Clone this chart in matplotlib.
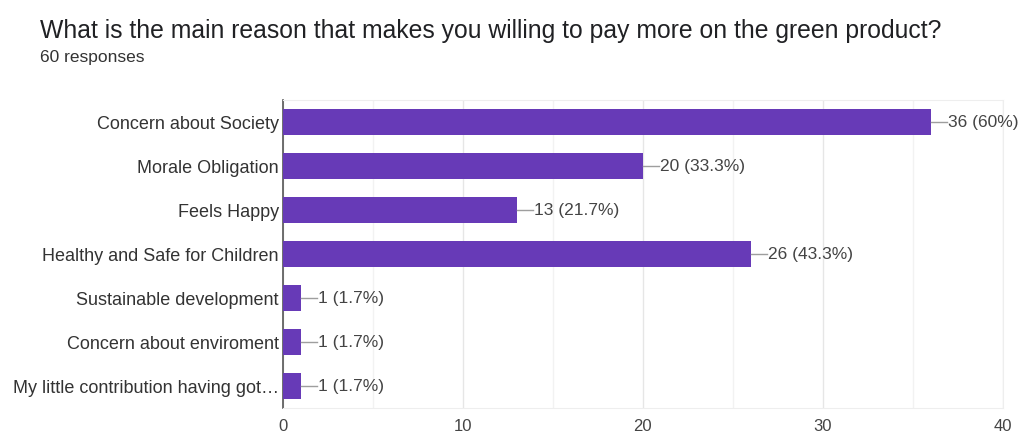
import matplotlib
matplotlib.use("Agg")
import matplotlib.pyplot as plt

plt.rcParams['font.family'] = ['Liberation Sans', 'DejaVu Sans']

# Survey answers, top to bottom
reasons = [
    'Concern about Society',
    'Morale Obligation',
    'Feels Happy',
    'Healthy and Safe for Children',
    'Sustainable development',
    'Concern about enviroment',
    'My little contribution having got\u2026',
]
counts = [36, 20, 13, 26, 1, 1, 1]
percents = ['60%', '33.3%', '21.7%', '43.3%', '1.7%', '1.7%', '1.7%']
total = 60

purple = '#673ab7'
text_gray = '#444444'

fig = plt.figure(figsize=(10.25, 4.43), dpi=100)
ax = fig.add_axes([0.276, 0.079, 0.7025, 0.695])

ypos = list(range(len(reasons)))
ax.barh(ypos, counts, height=0.59, color=purple, zorder=3)
ax.set_ylim(len(reasons) - 0.5, -0.5)
ax.set_xlim(0, 40)

# value labels with a short leader line
for y, c, p in zip(ypos, counts, percents):
    ax.plot([c, c + 0.9], [y, y], color='#9e9e9e', lw=1, zorder=3)
    ax.text(c + 0.95, y, f'{c} ({p})', va='center', ha='left',
            fontsize=12.5, color=text_gray)

ax.set_yticks(ypos)
ax.set_yticklabels(reasons, fontsize=13, color='#333333')
ax.set_xticks([0, 10, 20, 30, 40])
ax.set_xticklabels(['0', '10', '20', '30', '40'], fontsize=12, color=text_gray)
ax.set_xticks([5, 15, 25, 35], minor=True)
ax.tick_params(axis='both', length=0, pad=8)
ax.tick_params(axis='y', pad=3)
ax.tick_params(axis='x', which='minor', length=0)

ax.grid(axis='x', which='major', color='#e6e6e6', lw=1, zorder=0)
ax.grid(axis='x', which='minor', color='#f2f2f2', lw=1, zorder=0)

for side in ['top', 'right', 'bottom']:
    ax.spines[side].set_color('#eeeeee')
ax.spines['left'].set_color('#555555')
ax.spines['left'].set_linewidth(1.2)

fig.text(0.039, 0.93, 'What is the main reason that makes you willing to pay more on the green product?',
         fontsize=17.8, color='#202124', va='center', ha='left')
fig.text(0.039, 0.87, f'{total} responses', fontsize=12.5, color='#333333', va='center', ha='left')

fig.savefig('out.png', dpi=100, facecolor='white')
